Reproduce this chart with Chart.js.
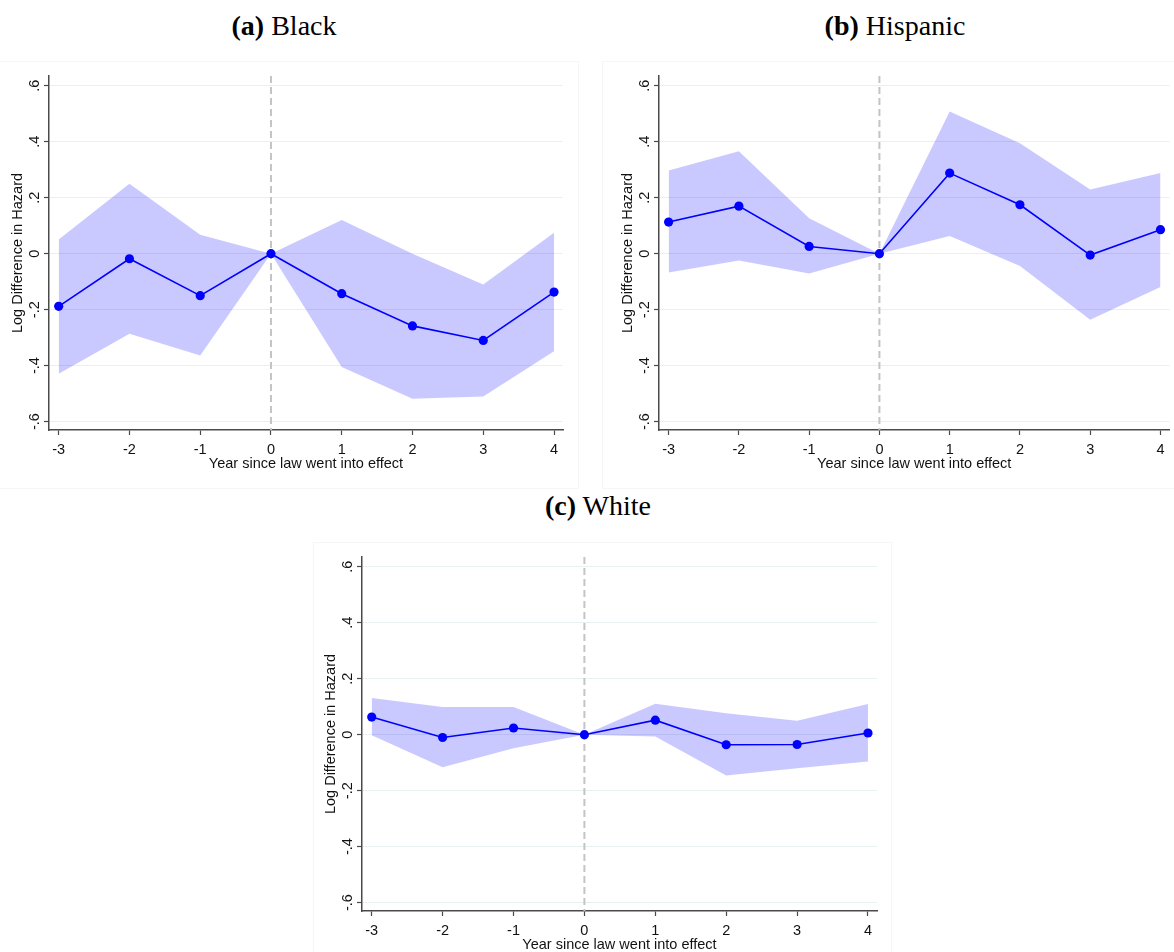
<!DOCTYPE html>
<html>
<head>
<meta charset="utf-8">
<script src="https://cdn.jsdelivr.net/npm/chart.js@4/dist/chart.umd.min.js"></script>
<style>
  html, body { margin: 0; padding: 0; background: #ffffff; }
  body { width: 1174px; height: 952px; position: relative; overflow: hidden; }
  .panel-frame { position: absolute; border: 1px solid #f6f6f6; box-sizing: border-box; }
  .panel-title {
    position: absolute; width: 400px; text-align: center;
    font-family: "Liberation Serif", "Times New Roman", serif;
    font-size: 28px; line-height: 28px; color: #000;
  }
  .panel-title b { font-weight: bold; }
  canvas { position: absolute; }
</style>
</head>
<body>

<div class="panel-frame" style="left:-1px; top:61px; width:580px; height:428px;"></div>
<div class="panel-frame" style="left:602px; top:61px; width:580px; height:428px;"></div>
<div class="panel-frame" style="left:313px; top:542px; width:579px; height:420px;"></div>

<div class="panel-title" style="left:84px; top:12px;"><b>(a)</b> Black</div>
<div class="panel-title" style="left:695px; top:12px;"><b>(b)</b> Hispanic</div>
<div class="panel-title" style="left:398px; top:492px;"><b>(c)</b> White</div>

<canvas id="black" width="580" height="420" style="left:0px; top:60px;"></canvas>
<canvas id="hispanic" width="564" height="420" style="left:610px; top:60px;"></canvas>
<canvas id="white" width="580" height="412" style="left:313px; top:540px;"></canvas>

<script>
// Event time relative to the year the law went into effect
const years = [-3, -2, -1, 0, 1, 2, 3, 4];
const lawYear = 0;

// Tick values for both axes
const xTicks = [-3, -2, -1, 0, 1, 2, 3, 4];
const yTicks = [-0.6, -0.4, -0.2, 0, 0.2, 0.4, 0.6];

// Black: point estimates and 95% confidence bounds
const blackEst   = [-0.188, -0.018, -0.150, 0, -0.143, -0.258, -0.310, -0.137];
const blackUpper = [ 0.051,  0.250,  0.068, 0,  0.120,  0.000, -0.110,  0.075];
const blackLower = [-0.429, -0.286, -0.364, 0, -0.405, -0.518, -0.510, -0.349];

// Hispanic
const hispEst   = [ 0.113,  0.170,  0.026, 0, 0.288,  0.175, -0.005,  0.086];
const hispUpper = [ 0.297,  0.366,  0.127, 0, 0.508,  0.395,  0.229,  0.288];
const hispLower = [-0.067, -0.024, -0.071, 0, 0.063, -0.044, -0.236, -0.119];

// White
const whiteEst   = [ 0.063, -0.010,  0.024, 0,  0.052, -0.036, -0.035,  0.006];
const whiteUpper = [ 0.131,  0.099,  0.099, 0,  0.111,  0.077,  0.050,  0.110];
const whiteLower = [-0.002, -0.116, -0.048, 0, -0.006, -0.146, -0.120, -0.096];

const xTitle = 'Year since law went into effect';
const yTitle = 'Log Difference in Hazard';

const AXIS_FONT = '"Liberation Sans", Arial, Helvetica, sans-serif';
const AXIS_COLOR = '#4a4a4a';
const TEXT_SIZE = 14.5;

function stataLabel(v) {
  if (Math.abs(v) < 1e-9) return '0';
  const s = Math.abs(v).toFixed(1).replace(/^0/, '');
  return (v < 0 ? '-' : '') + s;
}

function toPoints(xs, ys) {
  return xs.map((x, i) => ({ x: x, y: ys[i] }));
}

// Draws the dashed reference line at the law year, and the Stata-style
// tick labels / axis titles (vertical y labels reading bottom to top).
const stataAxes = {
  id: 'stataAxes',
  beforeDatasetsDraw(chart) {
    const ctx = chart.ctx;
    const xs = chart.scales.x;
    const area = chart.chartArea;
    const px = xs.getPixelForValue(lawYear);
    ctx.save();
    ctx.strokeStyle = '#c4c4c4';
    ctx.lineWidth = 2;
    ctx.setLineDash([7, 4]);
    ctx.beginPath();
    ctx.moveTo(px, area.top);
    ctx.lineTo(px, area.bottom);
    ctx.stroke();
    ctx.restore();
  },
  afterDraw(chart) {
    const ctx = chart.ctx;
    const xs = chart.scales.x;
    const ys = chart.scales.y;
    const area = chart.chartArea;
    ctx.save();
    ctx.fillStyle = '#111111';
    ctx.font = TEXT_SIZE + 'px ' + AXIS_FONT;

    // x tick labels
    ctx.textAlign = 'center';
    ctx.textBaseline = 'alphabetic';
    xTicks.forEach(v => {
      ctx.fillText(String(v), xs.getPixelForValue(v), area.bottom + 24);
    });
    // x title
    ctx.fillText(xTitle, (area.left + area.right) / 2, area.bottom + 37.5);

    // y tick labels, rotated
    yTicks.forEach(v => {
      ctx.save();
      ctx.translate(area.left - 10.5, ys.getPixelForValue(v));
      ctx.rotate(-Math.PI / 2);
      ctx.fillText(stataLabel(v), 0, 0);
      ctx.restore();
    });
    // y title, rotated
    ctx.save();
    ctx.translate(area.left - 27, (area.top + area.bottom) / 2);
    ctx.rotate(-Math.PI / 2);
    ctx.fillText(yTitle, 0, 0);
    ctx.restore();

    ctx.restore();
  }
};

function makePanel(id, est, upper, lower, frame) {
  const ctx = document.getElementById(id).getContext('2d');
  return new Chart(ctx, {
    type: 'line',
    data: {
      datasets: [
        {
          data: toPoints(years, est),
          borderColor: '#0000ff',
          borderWidth: 1.6,
          pointRadius: 4.6,
          pointHoverRadius: 4.6,
          pointBackgroundColor: '#0000ff',
          pointBorderWidth: 0,
          fill: false,
          order: 0
        },
        {
          data: toPoints(years, upper),
          borderWidth: 0,
          pointRadius: 0,
          fill: false,
          order: 1
        },
        {
          data: toPoints(years, lower),
          borderWidth: 0,
          pointRadius: 0,
          backgroundColor: 'rgba(0, 0, 255, 0.21)',
          fill: '-1',
          order: 1
        }
      ]
    },
    options: {
      responsive: false,
      animation: false,
      events: [],
      layout: { padding: { top: frame.top, right: frame.right, bottom: 0, left: 0 } },
      plugins: { legend: { display: false }, tooltip: { enabled: false } },
      elements: { line: { tension: 0 } },
      scales: {
        x: {
          type: 'linear',
          min: -3.137,
          max: 4.127,
          afterBuildTicks: s => { s.ticks = xTicks.map(v => ({ value: v })); },
          afterFit: s => { s.height = frame.bottom; },
          ticks: { display: false },
          grid: { drawOnChartArea: false, drawTicks: true, tickLength: 5, tickColor: AXIS_COLOR, tickWidth: 1.2 },
          border: { display: true, color: AXIS_COLOR, width: 1.5 }
        },
        y: {
          type: 'linear',
          min: -0.63,
          max: 0.635,
          afterBuildTicks: s => { s.ticks = yTicks.map(v => ({ value: v })); },
          afterFit: s => { s.width = frame.left; },
          ticks: { display: false },
          grid: { color: '#e8f0f2', lineWidth: 1, drawTicks: true, tickLength: 5, tickColor: AXIS_COLOR, tickWidth: 1.2 },
          border: { display: true, color: AXIS_COLOR, width: 1.5 }
        }
      }
    },
    plugins: [stataAxes]
  });
}

makePanel('black', blackEst, blackUpper, blackLower, { left: 49, top: 16, right: 17, bottom: 50 });
makePanel('hispanic', hispEst, hispUpper, hispLower, { left: 49, top: 16, right: 1, bottom: 50 });
makePanel('white', whiteEst, whiteUpper, whiteLower, { left: 49, top: 17, right: 16, bottom: 41 });
</script>
</body>
</html>
